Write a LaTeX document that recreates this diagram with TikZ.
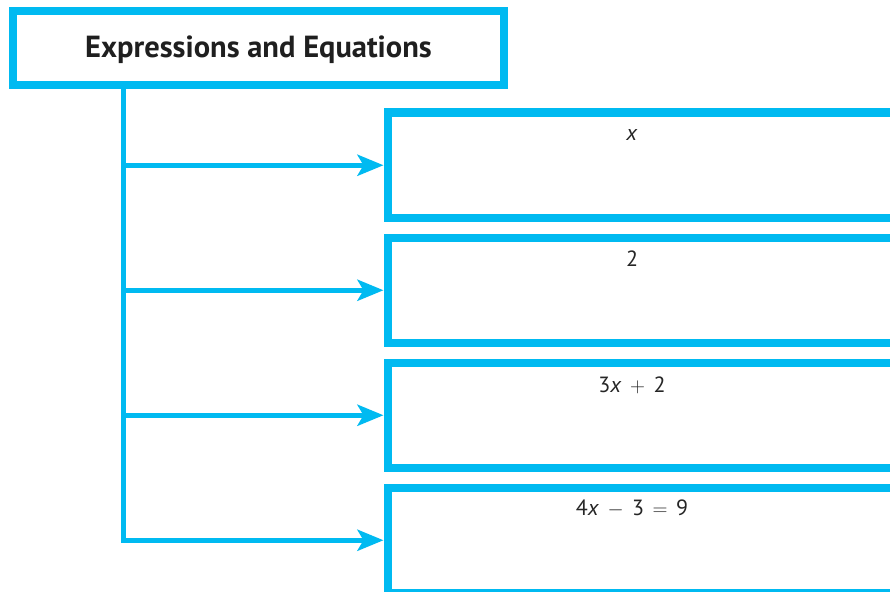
\documentclass[tikz,border=0pt]{standalone}
\usepackage{fontspec}
\setmainfont{PT Sans}
\usetikzlibrary{arrows.meta}
\definecolor{flowcyan}{RGB}{0,186,241}
\newcommand{\opsp}{\hspace{8.5pt}}
\begin{document}
\begin{tikzpicture}[x=1pt,y=-1pt,
  headbox/.style={draw=flowcyan,line width=8pt,fill=white,minimum width=491pt,minimum height=74.5pt,inner sep=0pt},
  answerbox/.style={draw=flowcyan,line width=8pt,fill=white,minimum width=512.5pt,minimum height=105.5pt,inner sep=0pt},
  conn/.style={draw=flowcyan,line width=5.3pt},
  arrowconn/.style={conn,-{Stealth[length=26pt,width=21pt,inset=6pt]}},
  headtext/.style={font=\fontsize{30.5}{33}\selectfont\bfseries,text=black!88,anchor=base,inner sep=0pt},
  labeltext/.style={font=\fontsize{22}{25}\selectfont,text=black!85,anchor=base,inner sep=0pt}]
\useasboundingbox (0,0) rectangle (890,591);
\clip (0,0) rectangle (890,591);
\fill[white] (0,0) rectangle (890,591);
\node[headbox] (head) at (258.5,48.25) {};
\node[headtext] (headlbl) at (258.5,57.3) {Expressions and Equations};
\coordinate (trunk) at (123.5,0);
\node[answerbox] (b1) at (643.75,165.25) {};
\node[answerbox] (b2) at (643.75,290.25) {};
\node[answerbox] (b3) at (643.75,415.25) {};
\node[answerbox] (b4) at (643.75,540.25) {};
\node[labeltext] (l1) at (632,140) {\textit{x}};
\node[labeltext] (l2) at (632,266) {2};
\node[labeltext] (l3) at (632,392) {3\textit{x}\opsp$+$\opsp2};
\node[labeltext] (l4) at (632,515) {4\textit{x}\opsp$-$\opsp3\opsp$=$\opsp9};
\draw[arrowconn] (head.south -| trunk) |- (b4.west);
\draw[arrowconn] (b1.west -| trunk) -- (b1.west);
\draw[arrowconn] (b2.west -| trunk) -- (b2.west);
\draw[arrowconn] (b3.west -| trunk) -- (b3.west);
\end{tikzpicture}
\end{document}
